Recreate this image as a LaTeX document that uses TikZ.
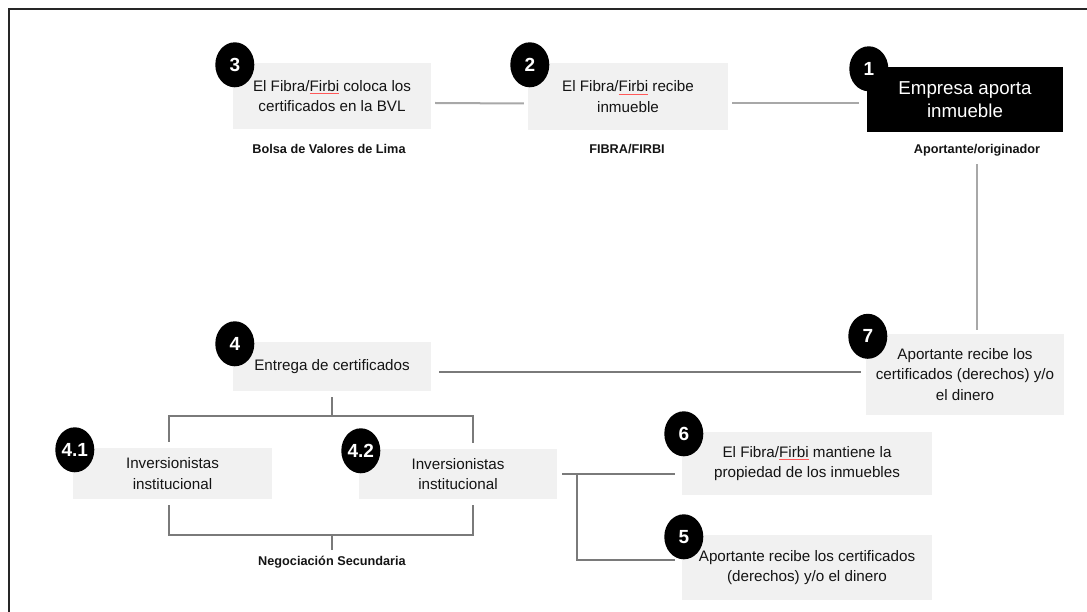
\documentclass[tikz,border=0pt]{standalone}
\usepackage{fontspec}
\setmainfont{Liberation Sans}
\usepackage{xcolor}
\usepackage{tikz}
\usetikzlibrary{shapes.geometric}

\definecolor{boxgrey}{HTML}{F1F1F1}
\definecolor{linkgrey}{HTML}{A8A8A8}
\definecolor{conngrey}{HTML}{7A7A7A}
\definecolor{textgrey}{HTML}{141414}

% red spell-check underline
\newcommand{\spellmark}[1]{\setbox0\hbox{#1}\rlap{\color{red!65}\rule[-2.6pt]{\wd0}{0.7pt}}\box0\relax}

\tikzset{
  greybox/.style={fill=boxgrey, align=center, inner sep=0pt, text=textgrey,
    font=\fontsize{15.2}{20.5}\selectfont},
  blackbox/.style={fill=black, align=center, inner sep=0pt, text=white,
    font=\fontsize{18.7}{23}\selectfont},
  numdot/.style={ellipse, fill=black, text=white, inner sep=0pt,
    minimum width=39pt, minimum height=45pt, font=\fontsize{19}{19}\bfseries},
  caption/.style={inner sep=0pt, text=textgrey, font=\fontsize{12.7}{15}\bfseries},
  link/.style={draw=linkgrey, line width=2pt},
  conn/.style={draw=conngrey, line width=1.5pt},
}

\begin{document}
\begin{tikzpicture}[x=1pt,y=-1pt]
        \useasboundingbox (0,0) rectangle (1087,612);
        \draw[line width=2pt, black!85] (9,612) -- (9,9) -- (1087,9);

        % top row
        \node (f3) [greybox, minimum width=198pt, minimum height=66pt] at (332,96)
            {El Fibra/\spellmark{Firbi} coloca los\\certificados en la BVL};
        \node (f2) [greybox, minimum width=200pt, minimum height=67pt] at (628,96.5)
            {El Fibra/\spellmark{Firbi} recibe\\inmueble};
        \node (f1) [blackbox, minimum width=196pt, minimum height=65pt] at (965,99.5)
            {Empresa aporta\\inmueble};
        \node (bvl) [caption] at (329,149) {Bolsa de Valores de Lima};
        \node (fibra) [caption] at (627,149) {FIBRA/FIRBI};
        \node (orig) [caption] at (977,150) {Aportante/originador};

        % lower part
        \node (f4) [greybox, minimum width=198pt, minimum height=49pt] at (332,366.5)
            {Entrega de certificados};
        \node (f7) [greybox, minimum width=198pt, minimum height=80pt] at (965,374.5)
            {Aportante recibe los\\certificados (derechos) y/o\\el dinero};
        \node (f41) [greybox, minimum width=199pt, minimum height=51pt] at (172.5,473.5)
            {Inversionistas\\institucional};
        \node (f42) [greybox, minimum width=198pt, minimum height=50pt] at (458,474)
            {Inversionistas\\institucional};
        \node (f6) [greybox, minimum width=250pt, minimum height=63pt] at (807,463.5)
            {El Fibra/\spellmark{Firbi} mantiene la\\propiedad de los inmuebles};
        \node (f5) [greybox, minimum width=250pt, minimum height=65pt] at (807,567.5)
            {Aportante recibe los certificados\\(derechos) y/o el dinero};
        \node (sec) [caption] at (332,562) {Negociación Secundaria};

        % connectors
        \draw[link] ([xshift=4pt,yshift=-7pt]f3.east) -- ([xshift=-4pt,yshift=-7pt]f2.west);
        \draw[link] ([xshift=4pt,yshift=-6.5pt]f2.east) -- ([xshift=-8pt,yshift=-3.5pt]f1.west);
        \draw[link] ([yshift=-8pt]orig.south) -- ([yshift=4pt]orig.south |- f7.north);
        \draw[conn] ([xshift=8pt,yshift=-5.5pt]f4.east) -- ([xshift=-5pt,yshift=-5.5pt]f4.east -| f7.west);
        \draw[conn] ([yshift=-6pt]f4.south) -- ++(0,19) coordinate (fork);
        \draw[conn] ([xshift=-3.5pt,yshift=6pt]f41.north) |- (fork) -| ([xshift=15pt,yshift=6pt]f42.north);
        \coordinate (merge) at ([yshift=-36pt]f41.south -| f4.south);
        \draw[conn] ([xshift=-3.5pt,yshift=-6pt]f41.south) |- (merge) -| ([xshift=15pt,yshift=-6pt]f42.south);
        \draw[conn] (merge) -- ([yshift=6pt]sec.north);
        \draw[conn] ([xshift=5pt]f42.east) -- ([xshift=-7pt]f42.east -| f6.west);
        \draw[conn] ([xshift=20pt]f42.east) |- ([xshift=-7pt,yshift=7.5pt]f5.west);

        % step numbers
        \node (n3) [numdot] at ([xshift=2pt,yshift=-2pt]f3.north west) {3};
        \node (n2) [numdot] at ([xshift=2pt,yshift=-2pt]f2.north west) {2};
        \node (n1) [numdot] at ([xshift=2pt,yshift=-2pt]f1.north west) {1};
        \node (n4) [numdot] at ([xshift=2pt,yshift=-2pt]f4.north west) {4};
        \node (n41) [numdot] at ([xshift=2pt,yshift=-2pt]f41.north west) {4.1};
        \node (n42) [numdot] at ([xshift=2pt,yshift=-2pt]f42.north west) {4.2};
        \node (n7) [numdot] at ([xshift=2pt,yshift=-2pt]f7.north west) {7};
        \node (n6) [numdot] at ([xshift=2pt,yshift=-2pt]f6.north west) {6};
        \node (n5) [numdot] at ([xshift=2pt,yshift=-2pt]f5.north west) {5};
    \end{tikzpicture}
\end{document}
